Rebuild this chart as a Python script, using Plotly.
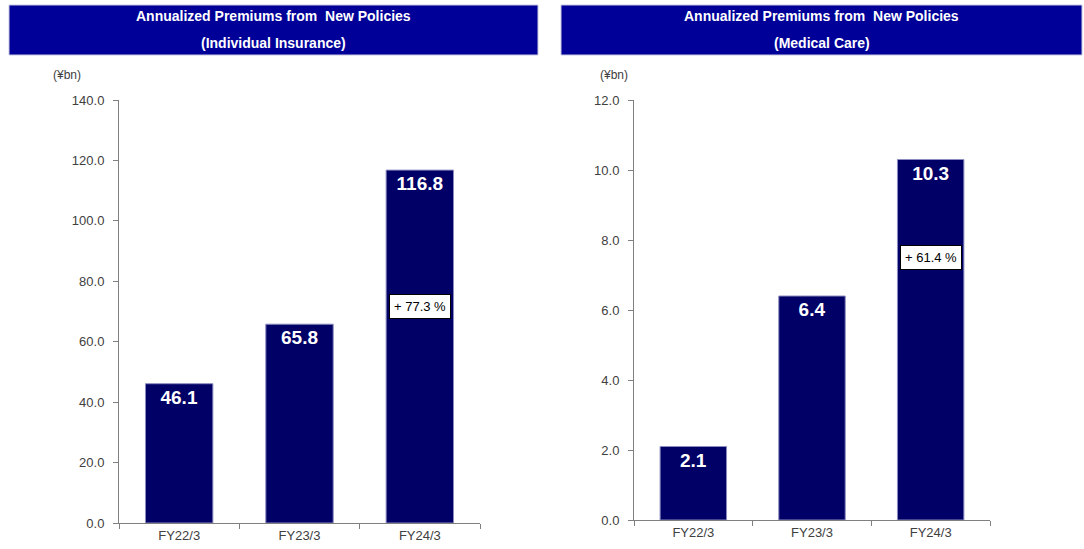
import plotly.graph_objects as go

# Fiscal years on the category axis
categories = ["FY22/3", "FY23/3", "FY24/3"]

# Annualized premiums from new policies (¥bn)
individual_values = [46.1, 65.8, 116.8]
medical_values = [2.1, 6.4, 10.3]

# Year-on-year growth callouts for the latest year
individual_growth = "+ 77.3 %"
medical_growth = "+ 61.4 %"

# Y-axis ticks
individual_ticks = [0, 20, 40, 60, 80, 100, 120, 140]
medical_ticks = [0, 2, 4, 6, 8, 10, 12]

W, H = 1084, 549
BAR = "#000066"
HEADER = "#000099"
AXIS = "#808080"
FONT = "Arial, Liberation Sans, sans-serif"
TICKFONT = dict(family=FONT, size=13, color="#404040")


def px(x):
    return x / W


def py(y):
    return 1 - y / H


fig = go.Figure()

for vals, xa, ya in [(individual_values, "x", "y"), (medical_values, "x2", "y2")]:
    fig.add_trace(go.Bar(
        x=categories, y=vals, xaxis=xa, yaxis=ya,
        width=0.56,
        marker=dict(color=BAR, line=dict(color="#8c8cc0", width=1)),
        text=[f"{v:.1f}" for v in vals],
        textposition="inside", insidetextanchor="end",
        textfont=dict(family=FONT, size=19, color="white", weight="bold"),
        cliponaxis=False, showlegend=False, hoverinfo="skip",
    ))

xcommon = dict(type="category", range=[-0.5, 2.5], showline=True, linecolor=AXIS,
               linewidth=1, ticks="outside", tickson="boundaries", ticklen=5,
               tickcolor=AXIS, tickfont=TICKFONT, showgrid=False, fixedrange=True,
               automargin=False)
ycommon = dict(showline=True, linecolor=AXIS, linewidth=1, ticks="outside",
               ticklen=5, tickcolor=AXIS, tickfont=TICKFONT, showgrid=False,
               zeroline=False, tickformat=".1f", fixedrange=True,
               automargin=False, ticklabelstandoff=6)

fig.update_layout(
    width=W, height=H,
    autosize=False,
    margin=dict(l=0, r=0, t=0, b=0, pad=0),
    paper_bgcolor="white", plot_bgcolor="white",
    bargap=0.4,
    xaxis=dict(domain=[px(119), px(480)], anchor="y", **xcommon),
    yaxis=dict(domain=[py(523), py(100)], anchor="x", range=[0, 140],
               tickvals=individual_ticks, **ycommon),
    xaxis2=dict(domain=[px(634), px(990)], anchor="y2", **xcommon),
    yaxis2=dict(domain=[py(520), py(100)], anchor="x2", range=[0, 12],
                tickvals=medical_ticks, **ycommon),
)

# Header bars with titles
headers = [
    (9, 538, "(Individual Insurance)"),
    (561, 1082, "(Medical Care)"),
]
for x0, x1, sub in headers:
    fig.add_shape(type="rect", xref="paper", yref="paper",
                  x0=px(x0), x1=px(x1), y0=py(55), y1=py(5),
                  fillcolor=HEADER, line=dict(color="#c8c8e0", width=1), layer="below")
    cx = px((x0 + x1) / 2)
    for yy, txt in [(16, "Annualized Premiums from  New Policies"), (43, sub)]:
        fig.add_annotation(xref="paper", yref="paper", x=cx, y=py(yy),
                           text=f"<b>{txt}</b>", showarrow=False,
                           xanchor="center", yanchor="middle",
                           font=dict(family=FONT, size=14, color="white"))

# Unit labels
for ux in (67, 614):
    fig.add_annotation(xref="paper", yref="paper", x=px(ux), y=py(75),
                       text="(¥bn)", showarrow=False, xanchor="center",
                       yanchor="middle", font=dict(family=FONT, size=12, color="#404040"))

# Growth callouts inside the latest bar
for xa, ya, yval, txt in [("x", "y", 71.5, individual_growth),
                          ("x2", "y2", 7.5, medical_growth)]:
    fig.add_annotation(xref=xa, yref=ya, x=categories[2], y=yval, text=txt,
                       showarrow=False, bgcolor="white", bordercolor="black",
                       borderwidth=1, borderpad=4,
                       font=dict(family=FONT, size=13, color="black"))

fig.write_html("out.html")
